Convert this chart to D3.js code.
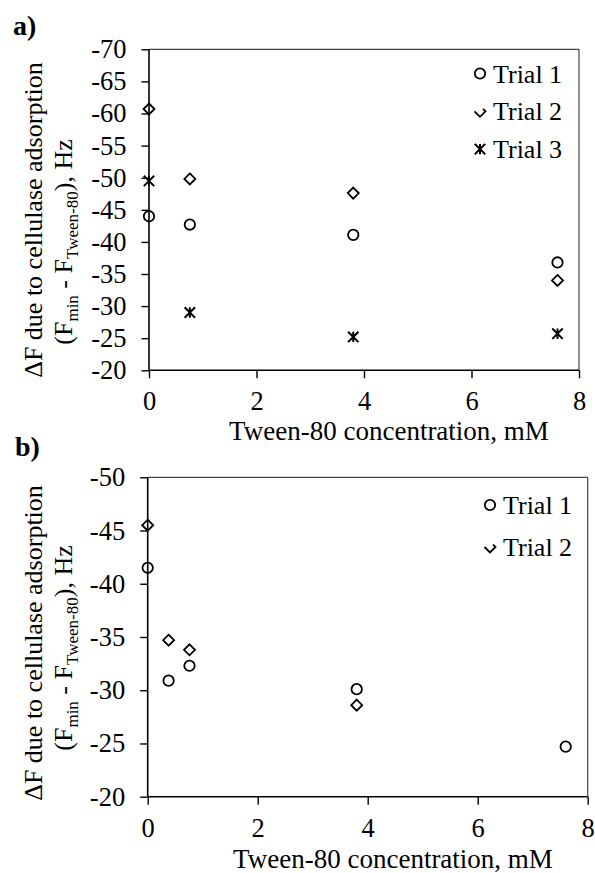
<!DOCTYPE html>
<html><head><meta charset="utf-8">
<script src="https://cdn.jsdelivr.net/npm/d3@7"></script>
<style>
html,body{margin:0;padding:0;background:#fff;}
svg{display:block;}
text{font-family:"Liberation Serif","Times New Roman",serif;fill:#000;}
</style></head>
<body>
<script>
// ---- Data ----
const xTicks = [0, 2, 4, 6, 8];
const yTicksA = [-70, -65, -60, -55, -50, -45, -40, -35, -30, -25, -20];
const yTicksB = [-50, -45, -40, -35, -30, -25, -20];

const concA = [0, 0.76, 3.8, 7.6];
const trial1A = [-44.0, -42.7, -41.1, -36.8];
const trial2A = [-60.7, -49.8, -47.6, -34.0];
const trial3A = [-49.5, -29.0, -25.2, -25.7];

const concB1 = [0, 0.38, 0.76, 3.8, 7.6];
const trial1B = [-41.5, -30.9, -32.3, -30.1, -24.7];
const concB2 = [0, 0.38, 0.76, 3.8];
const trial2B = [-45.5, -34.7, -33.8, -28.6];

const legendA = ["Trial 1", "Trial 2", "Trial 3"];
const legendB = ["Trial 1", "Trial 2"];

const FONT = '"Liberation Serif","Times New Roman",serif';
const W = 595, H = 873;
const svg = d3.select("body").append("svg").attr("width", W).attr("height", H)
  .attr("font-family", FONT);

const fmt = d => String(d); // plain hyphen-minus, as in the reference

function markerPath(type, s) {
  if (type === "diamond") return `M0,${-s}L${s},0L0,${s}L${-s},0Z`;
  if (type === "diamondHalf") return `M${-s},0L0,${s}L${s},0L${s*0.55},${-s*0.45}`;
  if (type === "star") return `M${-s},${-s}L${s},${s}M${-s},${s}L${s},${-s}M0,${-s}L0,${s}`;
  return null;
}

function drawMarker(g, type, x, y) {
  if (type === "circle") {
    g.append("circle").attr("cx", x).attr("cy", y).attr("r", 5.2)
      .attr("fill", "none").attr("stroke", "#000").attr("stroke-width", 1.8);
  } else {
    const s = type === "star" ? 5.2 : 5.5;
    g.append("path").attr("transform", `translate(${x},${y})`).attr("d", markerPath(type, s))
      .attr("fill", "none").attr("stroke", "#000").attr("stroke-width", type === "star" ? 2 : 1.8);
  }
}

function txt(sel) {
  return sel.attr("font-family", FONT).style("font-family", FONT).attr("fill", "#000");
}

function panel(cfg) {
  const g = svg.append("g");
  const x = d3.scaleLinear().domain([0, 8]).range([cfg.left, cfg.right]);
  const y = d3.scaleLinear().domain(cfg.yDomain).range([cfg.bottom, cfg.top]);

  // frame top/right
  g.append("line").attr("x1", cfg.left).attr("x2", cfg.right).attr("y1", cfg.top).attr("y2", cfg.top)
    .attr("stroke", "#444").attr("stroke-width", 1.2);
  g.append("line").attr("x1", cfg.right).attr("x2", cfg.right).attr("y1", cfg.top).attr("y2", cfg.bottom)
    .attr("stroke", "#444").attr("stroke-width", 1.2);

  const ya = g.append("g").attr("transform", `translate(${cfg.left},0)`)
    .call(d3.axisLeft(y).tickValues(cfg.yTicks).tickSize(7.5).tickPadding(15).tickFormat(fmt));
  const xa = g.append("g").attr("transform", `translate(0,${cfg.bottom})`)
    .call(d3.axisBottom(x).tickValues(xTicks).tickSize(8).tickPadding(cfg.xPad).tickFormat(fmt));
  [ya, xa].forEach(a => {
    a.attr("font-family", FONT).attr("font-size", 26);
    a.select(".domain").attr("stroke", "#000").attr("stroke-width", 1.6);
    a.selectAll(".tick line").attr("stroke", "#000").attr("stroke-width", 1.4);
    txt(a.selectAll(".tick text")).style("font-size", "26.5px");
  });
  ya.select(".domain").attr("d", `M0,${cfg.top}V${cfg.bottom}`);
  xa.select(".domain").attr("d", `M${cfg.left},0H${cfg.right}`);

  // data
  cfg.series.forEach(s => {
    s.xs.forEach((xv, i) => drawMarker(g, s.type, x(xv), y(s.ys[i])));
  });

  // legend
  cfg.legend.forEach((lab, i) => {
    const ly = cfg.legY + i * cfg.legStep;
    const type = cfg.series[i].type === "diamond" ? "diamondHalf" : cfg.series[i].type;
    drawMarker(g, type, cfg.legX, ly);
    txt(g.append("text")).attr("x", cfg.legX + 13).attr("y", ly + 9).style("font-size", "26px").text(lab);
  });

  // x title
  txt(g.append("text")).attr("x", cfg.titleX).attr("y", cfg.titleY)
    .attr("text-anchor", "middle").style("font-size", "27px").text("Tween-80 concentration, mM");

  // y title
  txt(g.append("text")).attr("transform", `translate(42,${cfg.yl1}) rotate(-90)`)
    .attr("text-anchor", "middle").style("font-size", "26px").text("\u0394F due to cellulase adsorption");
  const t2 = txt(g.append("text")).attr("transform", `translate(72,${cfg.yl2}) rotate(-90)`)
    .attr("text-anchor", "middle").style("font-size", "26px");
  t2.append("tspan").text("(F");
  t2.append("tspan").attr("dy", 6).style("font-size", "17px").text("min");
  t2.append("tspan").attr("dy", -6).text(" - F");
  t2.append("tspan").attr("dy", 6).style("font-size", "17px").text("Tween-80");
  t2.append("tspan").attr("dy", -6).text("), Hz");

  // panel label
  txt(g.append("text")).attr("x", cfg.labX).attr("y", cfg.labY).style("font-size", "28px")
    .style("font-weight", "bold").text(cfg.label);
}

panel({
  left: 149, right: 579, top: 49.3, bottom: 370.3, yDomain: [-20, -70], yTicks: yTicksA,
  series: [
    {type: "circle", xs: concA, ys: trial1A},
    {type: "diamond", xs: concA, ys: trial2A},
    {type: "star", xs: concA, ys: trial3A}
  ],
  legend: legendA, legX: 480, legY: 73.5, legStep: 37.8, xPad: 13, titleX: 389, titleY: 440,
  yl1: 220, yl2: 242, label: "a)", labX: 13, labY: 35
});

panel({
  left: 147.7, right: 587.7, top: 477.3, bottom: 796.7, yDomain: [-20, -50], yTicks: yTicksB,
  series: [
    {type: "circle", xs: concB1, ys: trial1B},
    {type: "diamond", xs: concB2, ys: trial2B}
  ],
  legend: legendB, legX: 490, legY: 505, legStep: 42, xPad: 13, titleX: 393, titleY: 867.5,
  yl1: 643, yl2: 648, label: "b)", labX: 15, labY: 456
});
</script>
</body></html>
